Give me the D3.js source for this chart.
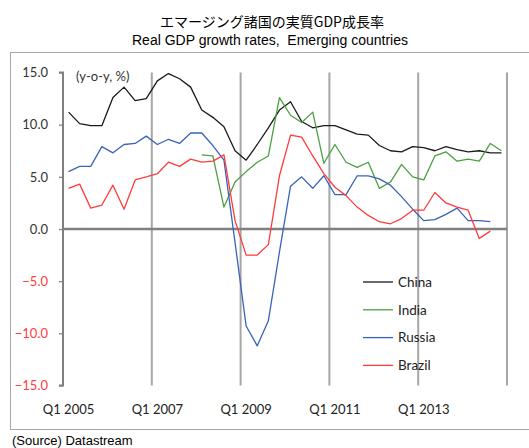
<!DOCTYPE html>
<html>
<head>
<meta charset="utf-8">
<script src="https://cdn.jsdelivr.net/npm/d3@7"></script>
<style>
  body { margin: 0; background: #fff; }
  svg { display: block; }
</style>
</head>
<body>
<div id="chart"></div>
<script>
var svgWidth = 529;
var svgHeight = 448;

// quarters Q1 2005 .. Q4 2014
var years = [2005, 2006, 2007, 2008, 2009, 2010, 2011, 2012, 2013, 2014];
var quarters = [];
years.forEach(function(y) {
    [1, 2, 3, 4].forEach(function(q) { quarters.push("Q" + q + " " + y); });
});

var china = [11.2, 10.1, 9.9, 9.9, 12.6, 13.6, 12.3, 12.5, 14.2, 14.9, 14.4, 13.6,
    11.4, 10.7, 9.8, 7.5, 6.6, 8.1, 9.7, 11.4, 12.2, 10.3, 9.7, 9.9,
    9.9, 9.5, 9.1, 9.0, 8.0, 7.5, 7.4, 7.9, 7.8, 7.5, 7.9, 7.6, 7.4, 7.5, 7.3, 7.3];
var india = [null, null, null, null, null, null, null, null, null, null, null, null,
    7.1, 7.0, 2.1, 4.5, 5.5, 6.4, 7.0, 12.6, 10.9, 10.2, 11.2, 6.3,
    8.1, 6.4, 5.9, 6.4, 3.9, 4.5, 6.2, 5.0, 4.7, 7.0, 7.4, 6.5, 6.7, 6.5, 8.2, 7.5];
var russia = [5.5, 6.0, 6.0, 7.9, 7.3, 8.1, 8.2, 8.9, 8.1, 8.6, 8.2, 9.2,
    9.2, 8.0, 6.6, -1.3, -9.3, -11.2, -8.8, -2.2, 4.1, 5.0, 3.9, 5.1,
    3.3, 3.3, 5.1, 5.1, 4.8, 4.2, 3.1, 1.9, 0.8, 0.9, 1.4, 2.0, 0.8, 0.8, 0.7, null];
var brazil = [3.9, 4.3, 2.0, 2.3, 4.2, 1.9, 4.7, 5.0, 5.3, 6.4, 6.0, 6.7,
    6.4, 6.5, 7.1, 0.8, -2.5, -2.5, -1.5, 5.1, 9.0, 8.8, 7.0, 5.3,
    4.0, 3.2, 2.1, 1.3, 0.7, 0.5, 1.0, 1.8, 1.8, 3.5, 2.5, 2.1, 1.8, -0.9, -0.2, null];

var seriesNames = ["China", "India", "Russia", "Brazil"];
var seriesValues = [china, india, russia, brazil];
var seriesColors = ["#1a1a1a", "#4aa040", "#3a63b8", "#ff3b3b"];

var yTicks = [15, 10, 5, 0, -5, -10, -15];

var plot = { left: 63, right: 507, top: 72.5, bottom: 385.5 };

var svg = d3.select("#chart")
    .append("svg")
    .attr("width", svgWidth)
    .attr("height", svgHeight);

// outer frame
svg.append("rect")
    .attr("x", 10.5)
    .attr("y", 52.5)
    .attr("width", 560)
    .attr("height", 377)
    .attr("fill", "none")
    .attr("stroke", "#a6a6a6")
    .attr("stroke-width", 1);

// titles
svg.append("text")
    .attr("x", 272)
    .attr("y", 27)
    .attr("text-anchor", "middle")
    .style("font-family", "'Noto Sans CJK JP', sans-serif")
    .style("font-size", "14px")
    .attr("fill", "#000")
    .text("エマージング諸国の実質GDP成長率");

svg.append("text")
    .attr("x", 270)
    .attr("y", 45)
    .attr("text-anchor", "middle")
    .style("font-family", "'Liberation Sans', Arial, sans-serif")
    .style("font-size", "14px")
    .attr("fill", "#000")
    .text("Real GDP growth rates,\u00a0\u00a0Emerging countries");

// scales
var x = d3.scaleBand()
    .domain(quarters)
    .range([plot.left, plot.right])
    .padding(0);

var y = d3.scaleLinear()
    .domain([-15, 15])
    .range([plot.bottom, plot.top]);

var chartGroup = svg.append("g");

// vertical gridlines every 8 quarters
var gridQuarters = quarters.filter(function(d, i) { return i > 0 && i % 8 === 0; });
var gridX = gridQuarters.map(function(q) { return x(q); }).concat([plot.right]);

chartGroup.selectAll(".vgrid")
    .data(gridX)
    .enter()
    .append("line")
    .attr("class", "vgrid")
    .attr("x1", d => d)
    .attr("x2", d => d)
    .attr("y1", plot.top)
    .attr("y2", plot.bottom)
    .attr("stroke", "#a6a6a6")
    .attr("stroke-width", 2);

// y axis
var leftAxis = d3.axisLeft(y)
    .tickValues(yTicks)
    .tickSize(4)
    .tickFormat(d3.format(".1f"));

var yAxis = chartGroup.append("g")
    .attr("transform", `translate(${plot.left}, 0)`)
    .call(leftAxis);

yAxis.select(".domain")
    .attr("stroke", "#808080")
    .attr("stroke-width", 2)
    .attr("d", `M-4,${y(15)}H0V${y(-15)}H-4`);
yAxis.selectAll(".tick line")
    .attr("stroke", "#808080")
    .attr("stroke-width", 1.2);
yAxis.selectAll(".tick text")
    .attr("x", -15)
    .style("font-family", "Lato, sans-serif")
    .style("font-size", "13px")
    .attr("fill", d => d < 0 ? "#ff4040" : "#333");

// zero line (category axis)
chartGroup.append("line")
    .attr("x1", plot.left)
    .attr("x2", plot.right)
    .attr("y1", y(0))
    .attr("y2", y(0))
    .attr("stroke", "#808080")
    .attr("stroke-width", 2.5);

// x labels every 8 quarters
var labelQuarters = quarters.filter(function(d, i) { return i % 8 === 0; });
chartGroup.selectAll(".xlabel")
    .data(labelQuarters)
    .enter()
    .append("text")
    .attr("class", "xlabel")
    .attr("x", d => x(d) + x.bandwidth() / 2)
    .attr("y", 414)
    .attr("text-anchor", "middle")
    .style("font-family", "Lato, sans-serif")
    .style("font-size", "13px")
    .attr("fill", "#222")
    .text(d => d);

// unit label
chartGroup.append("text")
    .attr("x", 76)
    .attr("y", 81)
    .style("font-family", "Lato, sans-serif")
    .style("font-size", "13px")
    .attr("fill", "#333")
    .text("(y-o-y, %)");

// lines
var line = d3.line()
    .defined(d => d.v !== null)
    .x(d => x(d.q) + x.bandwidth() / 2)
    .y(d => y(d.v));

seriesValues.forEach(function(vals, s) {
    var pts = quarters.map(function(q, i) { return { q: q, v: vals[i] }; });
    chartGroup.append("path")
        .datum(pts)
        .attr("fill", "none")
        .attr("stroke", seriesColors[s])
        .attr("stroke-width", 1.3)
        .attr("stroke-linejoin", "round")
        .attr("d", line);
});

// legend
var legend = chartGroup.append("g")
    .attr("transform", "translate(363, 282)");

seriesNames.forEach(function(name, s) {
    var row = legend.append("g")
        .attr("transform", `translate(0, ${s * 27.8})`);
    row.append("line")
        .attr("x1", 0)
        .attr("x2", 30)
        .attr("y1", 0)
        .attr("y2", 0)
        .attr("stroke", seriesColors[s])
        .attr("stroke-width", 1.3);
    row.append("text")
        .attr("x", 35)
        .attr("y", 0)
        .attr("dy", "0.36em")
        .style("font-family", "Lato, sans-serif")
        .style("font-size", "13.5px")
        .attr("fill", "#222")
        .text(name);
});

// source
svg.append("text")
    .attr("x", 12)
    .attr("y", 445)
    .style("font-family", "'Liberation Sans', Arial, sans-serif")
    .style("font-size", "13px")
    .attr("fill", "#000")
    .text("(Source) Datastream");
</script>
</body>
</html>
